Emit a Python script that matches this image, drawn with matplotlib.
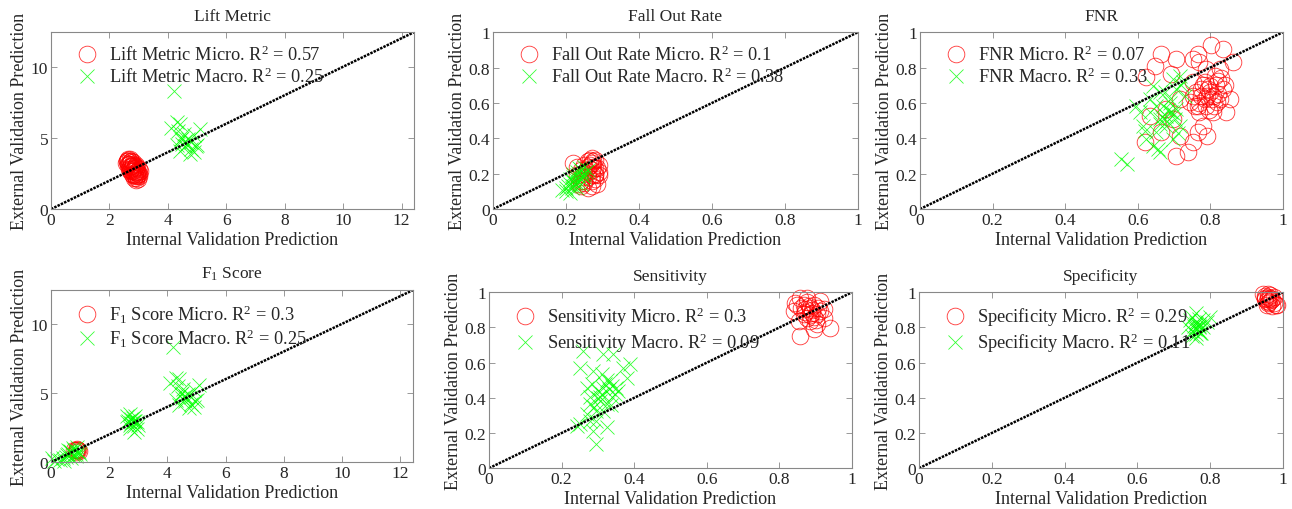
import numpy as np
import matplotlib
matplotlib.use("Agg")
import matplotlib.pyplot as plt
from matplotlib.ticker import FormatStrFormatter

plt.rcParams['font.family'] = ['Liberation Serif', 'DejaVu Serif']
plt.rcParams['mathtext.fontset'] = 'custom'
plt.rcParams['mathtext.rm'] = 'Liberation Serif'
plt.rcParams['mathtext.it'] = 'Liberation Serif:italic'

# ---- data ----
lift_micro_x = [2.60, 2.65, 2.70, 2.75, 2.80, 2.85, 2.90, 2.95, 3.00, 2.62, 2.68, 2.72,
                2.78, 2.82, 2.88, 2.92, 2.98, 2.64, 2.70, 2.76, 2.84, 2.90, 2.96, 3.02,
                2.66, 2.74, 2.80, 2.86, 2.94, 2.70, 2.78, 2.88, 2.92, 3.00, 2.84, 2.90,
                2.58, 2.63, 2.67, 2.73, 2.77, 2.81, 2.87, 2.93, 2.97, 3.04, 2.69, 2.79,
                2.83, 2.89, 2.95, 2.61, 2.71, 2.86, 2.99, 2.75]
lift_micro_y = [3.40, 3.20, 3.50, 3.00, 3.30, 2.90, 2.60, 2.40, 2.30, 3.10, 2.80, 3.30,
                2.70, 3.10, 2.40, 2.90, 2.60, 3.45, 3.00, 2.50, 2.80, 2.20, 2.70, 2.50,
                3.20, 3.35, 2.40, 3.05, 2.35, 2.75, 2.90, 2.60, 3.10, 2.85, 2.20, 2.05,
                3.25, 3.55, 3.15, 3.40, 3.05, 2.65, 2.95, 2.55, 2.15, 2.65, 2.95, 3.20,
                2.45, 2.75, 2.95, 3.35, 2.65, 2.30, 2.45, 2.85]
lift_macro_x = [4.10, 4.30, 4.40, 4.35, 4.50, 4.60, 4.70, 4.50, 4.60, 4.80, 4.90, 4.75,
                5.00, 5.10, 4.90, 4.55, 4.40, 4.30, 4.65, 4.80, 4.95, 4.45, 4.20]
lift_macro_y = [5.70, 6.10, 6.00, 5.50, 5.00, 4.80, 4.90, 4.60, 4.40, 4.20, 4.00, 3.90,
                4.50, 5.60, 5.20, 5.30, 4.10, 4.50, 4.60, 4.70, 4.40, 4.90, 8.30]

fall_micro_x = [0.22, 0.23, 0.24, 0.25, 0.26, 0.27, 0.28, 0.29, 0.27, 0.26, 0.28, 0.25,
                0.24, 0.26, 0.27, 0.28, 0.29, 0.23, 0.25, 0.27, 0.26, 0.28, 0.24, 0.27,
                0.265, 0.275, 0.285, 0.255, 0.245, 0.235, 0.27, 0.28, 0.26, 0.29, 0.25,
                0.275, 0.265, 0.285]
fall_micro_y = [0.26, 0.24, 0.22, 0.20, 0.27, 0.29, 0.28, 0.25, 0.22, 0.18, 0.20, 0.15,
                0.13, 0.12, 0.16, 0.17, 0.21, 0.19, 0.25, 0.26, 0.24, 0.23, 0.16, 0.19,
                0.28, 0.27, 0.23, 0.22, 0.18, 0.14, 0.13, 0.19, 0.21, 0.19, 0.16,
                0.24, 0.25, 0.14]
fall_macro_x = [0.19, 0.20, 0.21, 0.22, 0.23, 0.24, 0.25, 0.22, 0.23, 0.24, 0.21, 0.25,
                0.23, 0.24, 0.22, 0.20, 0.25, 0.24, 0.23, 0.26, 0.21, 0.22, 0.235,
                0.245, 0.215, 0.225, 0.255, 0.205]
fall_macro_y = [0.11, 0.10, 0.09, 0.13, 0.15, 0.17, 0.20, 0.18, 0.21, 0.22, 0.14, 0.24,
                0.19, 0.14, 0.16, 0.12, 0.18, 0.20, 0.12, 0.22, 0.17, 0.20, 0.23,
                0.19, 0.12, 0.15, 0.21, 0.13]

fnr_micro_x = [0.665, 0.706, 0.624, 0.647, 0.693, 0.766, 0.803, 0.835, 0.862, 0.752, 0.770,
               0.821, 0.798, 0.752, 0.743, 0.775, 0.807, 0.835, 0.853, 0.844, 0.807, 0.770,
               0.789, 0.780, 0.792, 0.766, 0.752, 0.716, 0.706, 0.738, 0.619, 0.633, 0.665,
               0.679, 0.716, 0.826, 0.789, 0.817, 0.794, 0.826, 0.752, 0.812, 0.697, 0.757,
               0.784, 0.800, 0.815, 0.785, 0.770, 0.830, 0.795, 0.810, 0.760, 0.780, 0.820,
               0.805, 0.775, 0.790, 0.840, 0.765]
fnr_micro_y = [0.877, 0.849, 0.745, 0.811, 0.764, 0.877, 0.925, 0.906, 0.830, 0.849, 0.830,
               0.726, 0.698, 0.642, 0.604, 0.642, 0.642, 0.679, 0.623, 0.547, 0.547, 0.547,
               0.585, 0.472, 0.415, 0.434, 0.377, 0.415, 0.302, 0.321, 0.377, 0.528, 0.434,
               0.566, 0.623, 0.792, 0.792, 0.604, 0.679, 0.623, 0.717, 0.755, 0.509, 0.585,
               0.717, 0.660, 0.700, 0.620, 0.600, 0.740, 0.560, 0.580, 0.660, 0.700, 0.650,
               0.620, 0.680, 0.640, 0.700, 0.580]
fnr_macro_x = [0.606, 0.615, 0.633, 0.642, 0.661, 0.670, 0.688, 0.697, 0.716, 0.706, 0.725,
               0.679, 0.693, 0.651, 0.642, 0.661, 0.624, 0.697, 0.716, 0.661, 0.679, 0.633,
               0.596, 0.706, 0.656, 0.729, 0.675, 0.702, 0.555, 0.570, 0.684, 0.690, 0.668,
               0.710, 0.650, 0.620, 0.700, 0.680, 0.660, 0.720]
fnr_macro_y = [0.547, 0.472, 0.623, 0.698, 0.660, 0.585, 0.623, 0.736, 0.755, 0.679, 0.717,
               0.528, 0.547, 0.434, 0.358, 0.321, 0.396, 0.396, 0.472, 0.509, 0.472, 0.547,
               0.585, 0.566, 0.340, 0.642, 0.660, 0.509, 0.285, 0.255, 0.560, 0.600, 0.520,
               0.430, 0.580, 0.440, 0.540, 0.500, 0.480, 0.700]

f1_micro_x = [0.85, 0.90, 0.95, 0.88, 0.80, 0.92, 0.87]
f1_micro_y = [0.85, 0.90, 0.80, 0.95, 0.90, 0.85, 0.75]
f1_macro_x = [0.05, 0.10, 0.30, 0.45, 0.50, 0.60, 0.70, 0.75, 0.80, 0.85, 0.90, 0.65,
              0.55, 0.95, 1.00, 0.70, 0.20, 0.60, 0.75, 0.85, 0.40, 0.90,
              2.60, 2.70, 2.80, 2.90, 2.75, 2.85, 2.95, 2.65, 2.80, 3.00, 2.70, 2.90, 2.85,
              2.60, 2.75, 2.95, 2.70, 2.85,
              4.10, 4.30, 4.40, 4.35, 4.50, 4.60, 4.70, 4.50, 4.60, 4.80, 4.90, 4.75,
              5.00, 5.10, 4.90, 4.55, 4.40, 4.30, 4.65, 4.80, 4.95, 4.45, 4.20]
f1_macro_y = [0.30, 0.10, 0.15, 0.10, 0.40, 0.60, 0.70, 0.50, 0.90, 0.60, 0.80, 0.80,
              0.50, 0.70, 0.60, 0.30, 0.20, 0.90, 1.00, 0.45, 0.30, 1.10,
              3.30, 3.50, 3.20, 3.00, 2.80, 2.60, 2.40, 3.00, 2.90, 2.70, 2.50, 3.30, 2.20,
              2.90, 3.10, 2.90, 2.70, 2.95,
              5.70, 6.10, 6.00, 5.50, 5.00, 4.80, 4.90, 4.60, 4.40, 4.20, 4.00, 3.90,
              4.50, 5.60, 5.20, 5.30, 4.10, 4.50, 4.60, 4.70, 4.40, 4.90, 8.30]

sens_micro_x = [0.857, 0.848, 0.876, 0.894, 0.913, 0.940, 0.922, 0.903, 0.885, 0.867, 0.839,
                0.857, 0.885, 0.876, 0.903, 0.913, 0.853, 0.894, 0.867, 0.889, 0.871, 0.922,
                0.843, 0.880, 0.895, 0.870, 0.905, 0.860, 0.885, 0.900, 0.875, 0.890]
sens_micro_y = [0.751, 0.930, 0.968, 0.930, 0.892, 0.798, 0.855, 0.817, 0.836, 0.874, 0.892,
                0.968, 0.911, 0.855, 0.874, 0.949, 0.836, 0.789, 0.930, 0.883, 0.902, 0.902,
                0.940, 0.920, 0.860, 0.890, 0.910, 0.910, 0.870, 0.840, 0.945, 0.900]
sens_macro_x = [0.259, 0.250, 0.287, 0.315, 0.342, 0.370, 0.388, 0.379, 0.351, 0.315, 0.306,
                0.278, 0.324, 0.296, 0.278, 0.269, 0.250, 0.241, 0.296, 0.324, 0.287, 0.296,
                0.333, 0.346, 0.315, 0.269, 0.310, 0.338, 0.278, 0.300, 0.320, 0.330, 0.305,
                0.290, 0.340, 0.312, 0.285, 0.325, 0.300, 0.355, 0.335]
sens_macro_y = [0.666, 0.572, 0.553, 0.647, 0.647, 0.572, 0.590, 0.515, 0.458, 0.458, 0.402,
                0.402, 0.364, 0.326, 0.364, 0.308, 0.251, 0.242, 0.270, 0.232, 0.213, 0.138,
                0.496, 0.421, 0.326, 0.458, 0.534, 0.402, 0.270, 0.440, 0.480, 0.450, 0.380,
                0.350, 0.470, 0.420, 0.480, 0.500, 0.400, 0.440, 0.360]

spec_micro_x = [0.950, 0.960, 0.965, 0.955, 0.970, 0.975, 0.980, 0.960, 0.950, 0.965, 0.955,
                0.970, 0.945, 0.960, 0.975, 0.985, 0.958, 0.968, 0.952, 0.962]
spec_micro_y = [0.980, 0.990, 0.970, 0.950, 0.960, 0.940, 0.930, 0.960, 0.970, 0.985, 0.930,
                0.920, 0.990, 0.940, 0.975, 0.925, 0.975, 0.955, 0.960, 0.945]
spec_macro_x = [0.750, 0.760, 0.770, 0.760, 0.770, 0.780, 0.800, 0.750, 0.760, 0.770, 0.740,
                0.750, 0.760, 0.780, 0.770, 0.765, 0.755, 0.775, 0.745, 0.790, 0.762,
                0.768, 0.758, 0.772]
spec_macro_y = [0.860, 0.880, 0.850, 0.820, 0.800, 0.840, 0.860, 0.780, 0.760, 0.780, 0.800,
                0.750, 0.740, 0.800, 0.820, 0.790, 0.810, 0.770, 0.840, 0.830, 0.830,
                0.810, 0.790, 0.770]

titles = ['Lift Metric', 'Fall Out Rate', 'FNR', r'F$_1$ Score', 'Sensitivity', 'Specificity']
r2_micro = ['0.57', '0.1', '0.07', '0.3', '0.3', '0.29']
r2_macro = ['0.25', '0.38', '0.33', '0.25', '0.09', '0.11']
limits = [12.43, 1, 1, 12.43, 1, 1]

panels = [
    (lift_micro_x, lift_micro_y, lift_macro_x, lift_macro_y),
    (fall_micro_x, fall_micro_y, fall_macro_x, fall_macro_y),
    (fnr_micro_x, fnr_micro_y, fnr_macro_x, fnr_macro_y),
    (f1_micro_x, f1_micro_y, f1_macro_x, f1_macro_y),
    (sens_micro_x, sens_micro_y, sens_macro_x, sens_macro_y),
    (spec_micro_x, spec_micro_y, spec_macro_x, spec_macro_y),
]

# axes boxes in figure fractions (left, bottom, width, height)
boxes = [
    [0.0395, 0.588, 0.281, 0.347],
    [0.3816, 0.588, 0.2825, 0.347],
    [0.712, 0.588, 0.281, 0.347],
    [0.0395, 0.092, 0.280, 0.337],
    [0.3785, 0.080, 0.281, 0.345],
    [0.7113, 0.080, 0.2817, 0.345],
]

fig = plt.figure(figsize=(12.92, 5.10), dpi=100)

for i, (mx, my, ax_x, ax_y) in enumerate(panels):
    ax = fig.add_axes(boxes[i])
    lim = limits[i]
    ax.plot(mx, my, 'o', mfc='none', mec='red', ms=12, mew=0.6, alpha=0.8,
            linestyle='none', clip_on=False,
            label='%s Micro. R$^2$ = %s' % (titles[i], r2_micro[i]))
    ax.plot(ax_x, ax_y, 'x', color='#00ff00', ms=9.5, mew=0.6, alpha=0.8,
            linestyle='none', clip_on=False,
            label='%s Macro. R$^2$ = %s' % (titles[i], r2_macro[i]))
    ax.plot([0, lim], [0, lim], color='black', lw=1.8, linestyle=(0, (1, 0.45)))
    ax.set_xlim(0, lim)
    ax.set_ylim(0, lim)
    if lim > 2:
        ax.set_xticks([0, 2, 4, 6, 8, 10, 12])
        ax.set_yticks([0, 5, 10])
    else:
        ax.set_xticks(np.arange(0, 1.01, 0.2))
        ax.set_yticks(np.arange(0, 1.01, 0.2))
        ax.xaxis.set_major_formatter(FormatStrFormatter('%g'))
        ax.yaxis.set_major_formatter(FormatStrFormatter('%g'))
    ax.tick_params(direction='in', top=True, right=True, length=4, width=0.6,
                   colors='#262626', labelsize=12.5, pad=2, color='#888888')
    for s in ax.spines.values():
        s.set_color('#888888')
        s.set_linewidth(0.8)
    ax.set_title(titles[i], fontsize=12.5, color='#262626', pad=9)
    ax.set_xlabel('Internal Validation Prediction', fontsize=13, color='#262626', labelpad=2)
    ax.set_ylabel('External Validation Prediction', fontsize=13, color='#262626', labelpad=2)
    ax.legend(loc='upper left', frameon=False, fontsize=13.2, handletextpad=0.45,
              handlelength=1.5, borderaxespad=0.3, labelspacing=0.12,
              bbox_to_anchor=(0.025, 1.0), labelcolor='#262626')

fig.savefig('out.png', dpi=100)
